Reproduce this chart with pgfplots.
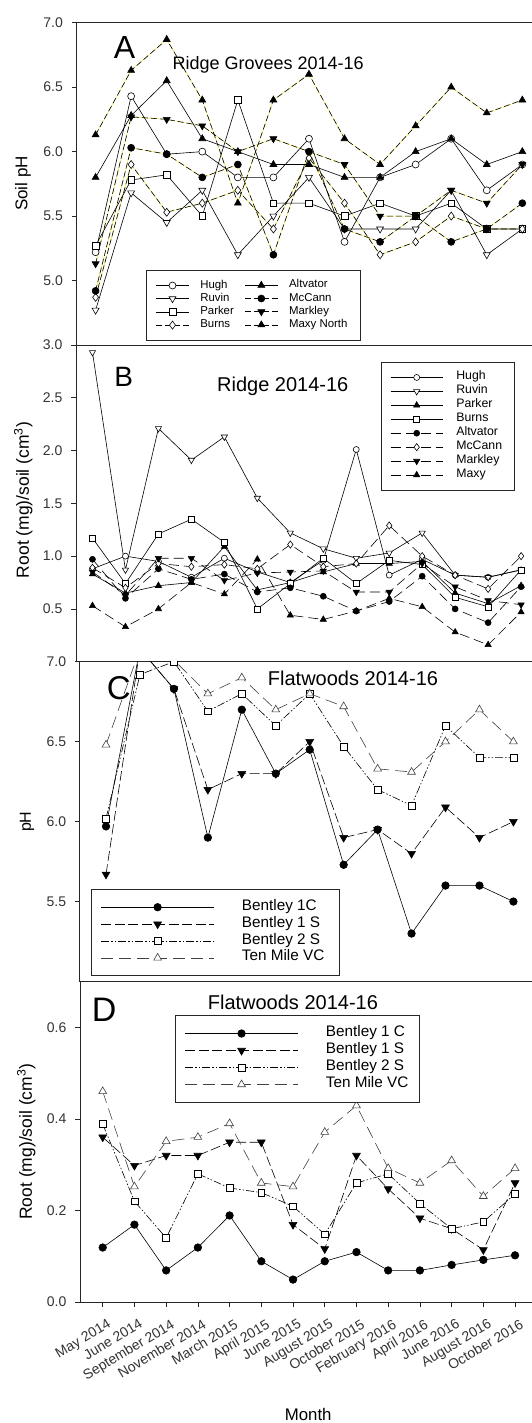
\documentclass[border=0pt]{standalone}
\usepackage{fontspec}
\setmainfont{Liberation Sans}
\usepackage{pgfplots}
\usepackage{pgfplotstable}
\pgfplotsset{compat=1.18}
\newcommand{\fs}[1]{\fontsize{#1}{#1}\selectfont}
\definecolor{ylw}{RGB}{240,228,40}

\pgfplotstableread{
x Hugh Ruvin Parker Burns Altvator McCann Markley Maxy
0  5.22 4.77 5.27 4.87 5.80 4.92 5.13 6.13
1  6.43 5.68 5.78 5.90 6.28 6.03 6.27 6.63
2  5.98 5.45 5.82 5.53 6.55 5.98 6.25 6.87
3  6.00 5.70 5.50 5.60 6.10 5.80 6.20 6.40
4  5.80 5.20 6.40 5.70 6.00 5.90 6.00 5.60
5  5.80 5.50 5.60 5.40 5.90 5.20 6.10 6.40
6  6.10 5.80 5.60 5.95 5.90 6.00 6.00 6.60
7  5.30 5.40 5.50 5.60 5.80 5.40 5.90 6.10
8  5.80 5.40 5.60 5.20 5.80 5.30 5.50 5.90
9  5.90 5.40 5.50 5.30 6.00 5.50 5.50 6.20
10 6.10 5.70 5.60 5.50 6.10 5.30 5.70 6.50
11 5.70 5.20 5.40 5.40 5.90 5.40 5.60 6.30
12 5.90 5.40 5.40 5.40 6.00 5.60 5.90 6.40
}\tabA

\pgfplotstableread{
x Hugh Ruvin Parker Burns Altvator McCann Markley Maxy
0  0.88 2.93 0.83 1.17 0.97 0.89 0.85 0.53
1  1.00 0.87 0.65 0.74 0.60 0.70 0.63 0.33
2  0.95 2.21 0.72 1.21 0.88 0.93 0.98 0.50
3  0.80 1.91 0.75 1.35 0.78 0.90 0.98 0.75
4  0.98 2.13 1.09 1.13 0.83 0.92 0.77 0.64
5  0.85 1.55 0.68 0.50 0.66 0.88 0.84 0.97
6  0.75 1.22 0.75 0.74 0.70 1.11 0.85 0.44
7  0.96 1.07 0.85 0.98 0.62 0.90 0.86 0.40
8  2.01 0.98 0.93 0.74 0.48 0.93 0.66 0.48
9  0.82 1.03 0.93 0.96 0.57 1.29 0.66 0.60
10 0.97 1.22 0.95 0.92 0.81 1.00 0.93 0.52
11 0.82 0.82 0.65 0.61 0.50 0.82 0.71 0.28
12 0.80 0.80 0.55 0.52 0.37 0.69 0.58 0.16
13 0.87 0.87 0.72 0.87 0.71 1.00 0.54 0.47
}\tabB

\pgfplotstableread{
x Bc Bs Bt Tm
0  5.97 5.67 6.02 6.48
1  7.08 7.08 6.92 7.08
2  6.83 6.83 7.00 7.01
3  5.90 6.20 6.69 6.80
4  6.70 6.30 6.80 6.90
5  6.30 6.30 6.60 6.70
6  6.45 6.50 6.80 6.80
7  5.73 5.90 6.47 6.72
8  5.95 5.95 6.20 6.33
9  5.30 5.80 6.10 6.31
10 5.60 6.09 6.60 6.50
11 5.60 5.90 6.40 6.70
12 5.50 6.00 6.40 6.50
}\tabC

\pgfplotstableread{
x Bc Bs Bt Tm
0  0.119 0.360 0.389 0.460
1  0.169 0.298 0.220 0.252
2  0.069 0.320 0.140 0.351
3  0.119 0.320 0.280 0.360
4  0.189 0.349 0.249 0.390
5  0.089 0.349 0.239 0.260
6  0.049 0.169 0.209 0.252
7  0.089 0.116 0.148 0.371
8  0.109 0.320 0.260 0.429
9  0.069 0.247 0.280 0.292
10 0.069 0.183 0.215 0.260
11 0.081 0.160 0.160 0.309
12 0.092 0.114 0.175 0.231
13 0.102 0.260 0.236 0.292
}\tabD

\pgfplotsset{
  panel/.style={
    scale only axis, anchor=south west,
    axis line style={line width=0.8pt, black!85},
    xtick=\empty, ytick pos=left, tick align=outside,
    major tick length=5pt,
    tick style={line width=0.7pt, black!85},
    yticklabel style={font=\fs{14}, text=black!80, inner xsep=0pt, xshift=-8.5pt,
      /pgf/number format/.cd, fixed, fixed zerofill, precision=1, assume math mode=true},
    every axis plot/.append style={line width=0.6pt},
    legend cell align=left,
  },
  legA/.style={
    legend image code/.code={\draw[mark repeat=2,mark phase=2] plot coordinates {(0pt,0pt)(16.5pt,0pt)(33pt,0pt)};\path (44pt,0pt);},
  },
  geomA/.style={at={(76.5pt,-345pt)}, width=468.5pt, height=322.3pt,
    xmin=-0.537, xmax=12.638, ymin=4.5, ymax=7.0},
  dA/.style={dash pattern=on 6pt off 3pt},
  dB/.style={dash pattern=on 10pt off 5pt},
  dS/.style={dash pattern=on 10pt off 3.5pt},
  dT/.style={dash pattern=on 8pt off 2pt on 1.5pt off 2pt on 1.5pt off 2pt},
  dM/.style={dash pattern=on 12pt off 6pt},
}

\begin{document}
\begin{tikzpicture}
\useasboundingbox (0pt,0pt) rectangle (531pt,-1423pt);

% ---------------- Panel A ----------------
\begin{axis}[panel, legA, geomA, ytick={5,5.5,6,6.5,7},
  legend style={at={(0.149,0.2327)}, anchor=north west,
    draw=black!85, fill=white, line width=0.8pt, inner xsep=9pt, inner ysep=8.5pt,
    nodes={font=\fs{11.4}, inner sep=0pt, text height=9.2pt, text depth=4pt}},
]
\addplot[ylw, line width=0.45pt, forget plot] table[x=x,y=Burns]{\tabA};
\addplot[ylw, line width=0.45pt, forget plot] table[x=x,y=McCann]{\tabA};
\addplot[ylw, line width=0.45pt, forget plot] table[x=x,y=Markley]{\tabA};
\addplot[ylw, line width=0.45pt, forget plot] table[x=x,y=Maxy]{\tabA};
\addplot[black, mark=*, mark size=3.5pt, mark options={solid, fill=white}] table[x=x,y=Hugh]{\tabA};
\addlegendentry{\makebox[151pt][l]{Hugh}}
\addplot[black, mark=triangle*, mark size=4pt, mark options={solid, fill=white, rotate=180}] table[x=x,y=Ruvin]{\tabA};
\addlegendentry{Ruvin}
\addplot[black, mark=square*, mark size=3.3pt, mark options={solid, fill=white}] table[x=x,y=Parker]{\tabA};
\addlegendentry{Parker}
\addplot[black, dA, mark=diamond*, mark size=4pt, mark options={solid, fill=white}] table[x=x,y=Burns]{\tabA};
\addlegendentry{Burns}
\addplot[black, mark=triangle*, mark size=4pt, mark options={solid, fill=black}] table[x=x,y=Altvator]{\tabA};
\addplot[black, dA, mark=*, mark size=3.5pt, mark options={solid, fill=black}] table[x=x,y=McCann]{\tabA};
\addplot[black, dA, mark=triangle*, mark size=4pt, mark options={solid, fill=black, rotate=180}] table[x=x,y=Markley]{\tabA};
\addplot[black, dA, mark=triangle*, mark size=4pt, mark options={solid, fill=black}] table[x=x,y=Maxy]{\tabA};
\end{axis}

% second legend column of panel A (overlay, no axis drawn)
\begin{axis}[panel, legA, geomA, hide axis,
  legend style={at={(0.3390,0.2327)}, anchor=north west,
    draw=none, fill=none, inner xsep=9pt, inner ysep=8.5pt,
    nodes={font=\fs{11.4}, inner sep=0pt, text height=9.2pt, text depth=4pt}},
]
\addlegendimage{black, line width=0.6pt, mark=triangle*, mark size=4pt, mark options={solid, fill=black}}
\addlegendentry{Altvator}
\addlegendimage{black, line width=0.6pt, dA, mark=*, mark size=3.5pt, mark options={solid, fill=black}}
\addlegendentry{McCann}
\addlegendimage{black, line width=0.6pt, dA, mark=triangle*, mark size=4pt, mark options={solid, fill=black, rotate=180}}
\addlegendentry{Markley}
\addlegendimage{black, line width=0.6pt, dA, mark=triangle*, mark size=4pt, mark options={solid, fill=black}}
\addlegendentry{Maxy North}
\end{axis}

% ---------------- Panel B ----------------
\begin{axis}[panel, at={(76pt,-661.7pt)}, width=469pt, height=316.7pt,
  xmin=-0.5, xmax=13.725, ymin=0, ymax=3.0, ytick={0.5,1,1.5,2,2.5,3},
  legend image code/.code={\draw[mark repeat=2,mark phase=2] plot coordinates {(0pt,0pt)(26.15pt,0pt)(52.3pt,0pt)};\path (65.5pt,0pt);},
  legend style={at={(0.650,0.947)}, anchor=north west,
    draw=black!85, line width=0.8pt, inner xsep=9pt, inner ysep=8.3pt,
    nodes={font=\fs{12.3}, inner sep=0pt, text height=9.5pt, text depth=4.44pt}},
]
\addplot[black, mark=*, mark size=3pt, mark options={solid, fill=white}] table[x=x,y=Hugh]{\tabB};
\addlegendentry{\makebox[49pt][l]{Hugh}}
\addplot[black, mark=triangle*, mark size=3.6pt, mark options={solid, fill=white, rotate=180}] table[x=x,y=Ruvin]{\tabB};
\addlegendentry{Ruvin}
\addplot[black, mark=triangle*, mark size=3.6pt, mark options={solid, fill=black}] table[x=x,y=Parker]{\tabB};
\addlegendentry{Parker}
\addplot[black, mark=square*, mark size=3pt, mark options={solid, fill=white}] table[x=x,y=Burns]{\tabB};
\addlegendentry{Burns}
\addplot[black, dB, mark=*, mark size=3pt, mark options={solid, fill=black}] table[x=x,y=Altvator]{\tabB};
\addlegendentry{Altvator}
\addplot[black, dB, mark=diamond*, mark size=3.6pt, mark options={solid, fill=white}] table[x=x,y=McCann]{\tabB};
\addlegendentry{McCann}
\addplot[black, dB, mark=triangle*, mark size=3.6pt, mark options={solid, fill=black, rotate=180}] table[x=x,y=Markley]{\tabB};
\addlegendentry{Markley}
\addplot[black, dB, mark=triangle*, mark size=3.6pt, mark options={solid, fill=black}] table[x=x,y=Maxy]{\tabB};
\addlegendentry{Maxy}
\end{axis}

% ---------------- Panel C ----------------
\begin{axis}[panel, at={(79.8pt,-981.5pt)}, width=465.2pt, height=319.8pt,
  xmin=-0.772, xmax=12.931, ymin=5.0, ymax=7.0, ytick={5.5,6,6.5,7},
  clip marker paths=true,
  legend image code/.code={\draw[mark repeat=2,mark phase=2] plot coordinates {(0pt,0pt)(56.35pt,0pt)(112.7pt,0pt)};\path (140.3pt,0pt);},
  legend style={at={(0.0249,0.289)}, anchor=north west,
    draw=black!85, line width=0.8pt, inner xsep=9.2pt, inner ysep=9.3pt,
    nodes={font=\fs{15.3}, inner sep=0pt, text height=11.5pt, text depth=5.4pt}},
]
\addplot[black, mark=*, mark size=3.8pt, mark options={solid, fill=black}] table[x=x,y=Bc]{\tabC};
\addlegendentry{\makebox[88pt][l]{Bentley 1C}}
\addplot[black, dS, mark=triangle*, mark size=4.5pt, mark options={solid, fill=black, rotate=180}] table[x=x,y=Bs]{\tabC};
\addlegendentry{Bentley 1 S}
\addplot[black, dT, mark=square*, mark size=3.4pt, mark options={solid, fill=white}] table[x=x,y=Bt]{\tabC};
\addlegendentry{Bentley 2 S}
\addplot[black!75, dM, mark=triangle*, mark size=4.5pt, mark options={solid, fill=white}] table[x=x,y=Tm]{\tabC};
\addlegendentry{Ten Mile VC}
\end{axis}

% ---------------- Panel D ----------------
\begin{axis}[panel, at={(80pt,-1302pt)}, width=465pt, height=320.5pt,
  xmin=-0.716, xmax=13.944, ymin=0, ymax=0.7, ytick={0,0.2,0.4,0.6},
  xtick={0,...,13}, xtick pos=bottom,
  xticklabels={May 2014, June 2014, September 2014, November 2014, March 2015, April 2015, June 2015, August 2015, October 2015, February 2016, April 2016, June 2016, August 2016, October 2016},
  xticklabel style={font=\fs{14}, text=black!80, inner sep=0pt, xshift=4pt, yshift=-11pt, rotate=31, anchor=north east},
  legend image code/.code={\draw[mark repeat=2,mark phase=2] plot coordinates {(0pt,0pt)(56.25pt,0pt)(112.5pt,0pt)};\path (140.3pt,0pt);},
  legend style={at={(0.2043,0.8955)}, anchor=north west,
    draw=black!85, line width=0.8pt, inner xsep=9.6pt, inner ysep=9.6pt,
    nodes={font=\fs{15.3}, inner sep=0pt, text height=11.6pt, text depth=5.4pt}},
]
\addplot[black, mark=*, mark size=3.8pt, mark options={solid, fill=black}] table[x=x,y=Bc]{\tabD};
\addlegendentry{\makebox[84pt][l]{Bentley 1 C}}
\addplot[black, dS, mark=triangle*, mark size=4.5pt, mark options={solid, fill=black, rotate=180}] table[x=x,y=Bs]{\tabD};
\addlegendentry{Bentley 1 S}
\addplot[black, dT, mark=square*, mark size=3.4pt, mark options={solid, fill=white}] table[x=x,y=Bt]{\tabD};
\addlegendentry{Bentley 2 S}
\addplot[black!75, dM, mark=triangle*, mark size=4.5pt, mark options={solid, fill=white}] table[x=x,y=Tm]{\tabD};
\addlegendentry{Ten Mile VC}
\end{axis}

% ---------------- texts ----------------
\node[font=\fs{32}, anchor=base] at (124.5pt,-58.3pt) {A};
\node[font=\fs{18}, anchor=base] at (268.2pt,-69.3pt) {Ridge Grovees 2014-16};
\node[font=\fs{28}, anchor=base] at (123.8pt,-386.7pt) {B};
\node[font=\fs{20}, anchor=base] at (282.8pt,-391.7pt) {Ridge 2014-16};
\node[font=\fs{33}, anchor=base] at (118.8pt,-699pt) {C};
\node[font=\fs{20}, anchor=base] at (353pt,-685pt) {Flatwoods 2014-16};
\node[font=\fs{34}, anchor=base] at (104.2pt,-1021.7pt) {D};
\node[font=\fs{20}, anchor=base] at (292.9pt,-1009pt) {Flatwoods 2014-16};
\node[font=\fs{16.8}, anchor=base] at (308.2pt,-1420.5pt) {Month};
\node[font=\fs{17}, rotate=90] at (22.9pt,-183.5pt) {Soil pH};
\node[font=\fs{17.5}, rotate=90] at (23.4pt,-500pt) {Root (mg)/soil (cm\textsuperscript{3})};
\node[font=\fs{16}, rotate=90] at (27.1pt,-821.7pt) {pH};
\node[font=\fs{17.5}, rotate=90] at (26.2pt,-1141.7pt) {Root (mg)/soil (cm\textsuperscript{3})};
\end{tikzpicture}
\end{document}
